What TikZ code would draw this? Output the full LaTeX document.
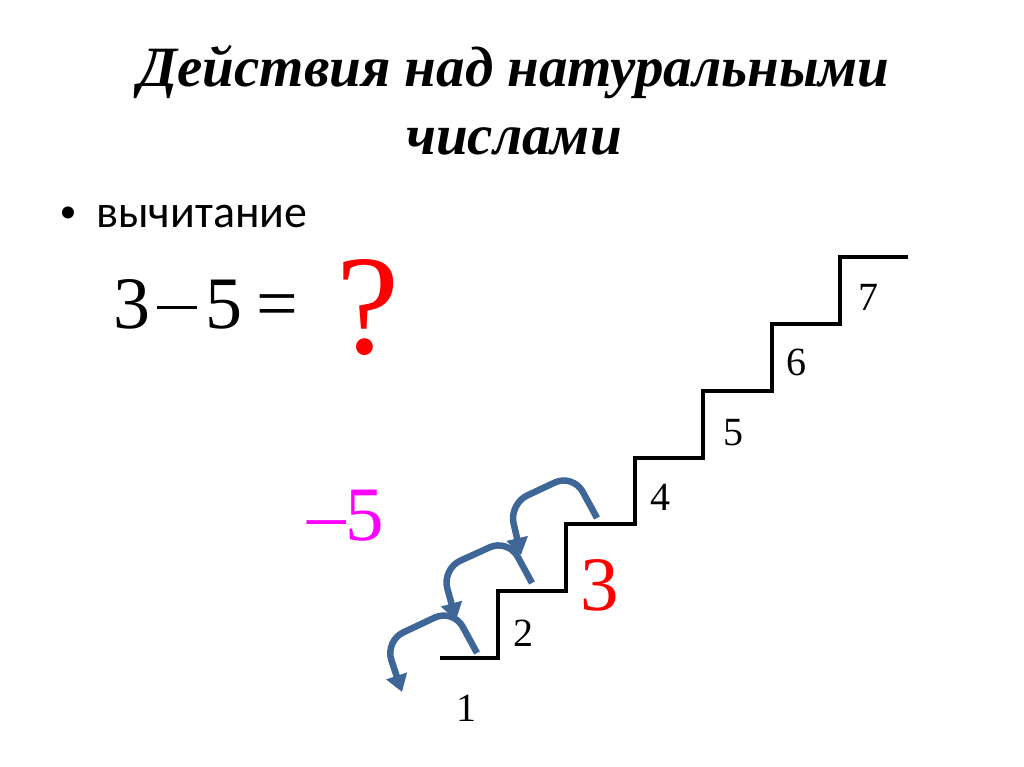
\documentclass[tikz,border=0pt]{standalone}
\usepackage{fontspec}
\setmainfont{Liberation Serif}
\newfontfamily\bodyfont{Carlito}
\usetikzlibrary{positioning,arrows.meta}

\definecolor{hopblue}{RGB}{62,102,150}
\definecolor{minuspink}{RGB}{255,0,255}

\begin{document}
\begin{tikzpicture}[
                x=1pt, y=-1pt,
                stair/.style={
                    line width=4pt,
                    black
                },
                hop/.style={
                    line width=6.5pt,
                    hopblue,
                    rounded corners=20pt,
                    -{Triangle[width=21pt,length=17pt]}
                },
                steplabel/.style={
                    inner sep=0pt,
                    font=\fontsize{40}{40}\selectfont
                }
            ]
                \useasboundingbox (0,0) rectangle (1024,767);
                \node[align=center, font=\fontsize{57}{68}\selectfont\bfseries\itshape] (title) at (514,100)
                    {Действия над натуральными\\числами};
                \node[inner sep=0pt, font=\bodyfont\fontsize{34}{34}\selectfont] (dot) at (68,215) {•};
                \node[inner sep=0pt, anchor=base west, font=\bodyfont\fontsize{46}{46}\selectfont] (bullet) at (96,228) {вычитание};
                \node[inner sep=0pt, anchor=base west, font=\fontsize{74}{74}\selectfont] (eq) at (113,328)
                    {3\kern7pt\rule[19pt]{40pt}{3.2pt}\kern8pt 5\kern14pt=};
                \node[inner sep=0pt, anchor=base west, red, font=\fontsize{142}{142}\selectfont] (ask) at (336,353) {?};
                \node[inner sep=0pt, anchor=base west, minuspink, font=\fontsize{77}{77}\selectfont] (minus) at (307,540) {–5};

                % the stairs
                \draw[stair] (440,658) -- (498,658)
                    \foreach \i in {0,...,5} {
                        -- ++(0,-66.8) -- ++(68.4,0)
                    };

                \node[steplabel] (n1) at (466,708) {1};
                \node[steplabel] (n2) at (523,633) {2};
                \node[steplabel, red, font=\fontsize{77}{77}\selectfont] (n3) at (600,585) {3};
                \node[steplabel] (n4) at (660,497) {4};
                \node[steplabel] (n5) at (733,433) {5};
                \node[steplabel] (n6) at (796,362) {6};
                \node[steplabel] (n7) at (868,297) {7};

                % where each hop lands
                \coordinate (h3) at (597,518);
                \coordinate (h2) at (532,583);
                \coordinate (h1) at (477,653);
                \coordinate (h0) at (402,692);

                \draw[hop] (h3) -- ++(-24,-44) -- ++(-64,30) -- (521,555);
                \draw[hop] (h2) -- ++(-24,-44) -- ++(-66,30) -- (456,620);
                \draw[hop] (h1) -- ++(-24,-44) -- ++(-68,32) -- (h0);
            \end{tikzpicture}
\end{document}
